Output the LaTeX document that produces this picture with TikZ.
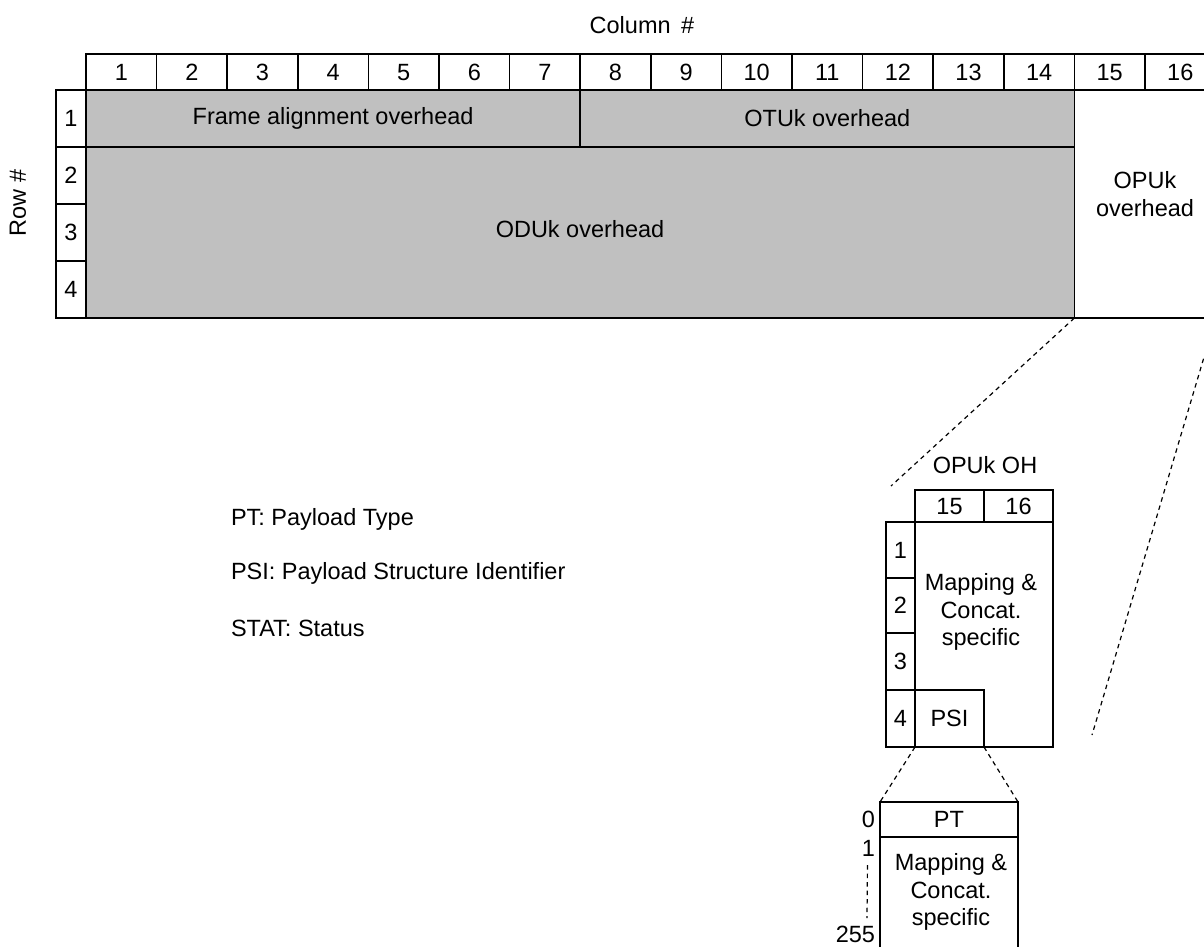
\documentclass[tikz,border=0pt]{standalone}
\usepackage{fontspec}
\setmainfont{Liberation Sans}
\definecolor{ohgray}{HTML}{C0C0C0}
\begin{document}
\begin{tikzpicture}[x=1pt,y=-1pt,
  every node/.style={font=\fontsize{23.5}{27.5}\selectfont, inner sep=0pt, outer sep=0pt},
  cell/.style={draw, line width=1.7pt, fill=white, rectangle},
  numcell/.style={cell, text height=16.8pt, text depth=0pt},
  graycell/.style={cell, fill=ohgray},
  mcell/.style={draw, line width=1.3pt, fill=white, rectangle, text height=16.8pt, text depth=0pt},
  guide/.style={line width=1.2pt, dash pattern=on 4.5pt off 4pt},
  txt/.style={align=center}]
\useasboundingbox (0,0) rectangle (1204,946);
\clip (0,0) rectangle (1204,946);

% titles
\node (coltitle) at (642,25) {Column\hspace{0.45em}\#};
\node[rotate=90] (rowtitle) at (18,203) {Row \#};

% column header cells
\foreach \k in {1,...,16}{
  \node[numcell, minimum width=70.6pt, minimum height=36pt] (h\k) at ({86+70.6*(\k-0.5)},72) {\k};
}
% row number cells
\foreach \r in {1,...,4}{
  \node[numcell, minimum width=30pt, minimum height=57pt] (r\r) at (71,{90+57*(\r-0.5)}) {\r};
}
% overhead areas
\node[graycell, minimum width=494.2pt, minimum height=57pt] (fa) at (333.1,118.5) {Frame alignment overhead};
\node[graycell, minimum width=494.2pt, minimum height=57pt] (otu) at (827.3,118.5) {OTUk overhead};
\node[graycell, minimum width=988.4pt, minimum height=171pt] (odu) at (580.2,232.5) {};
\node (odutxt) at (580,229) {ODUk overhead};
\node[cell, minimum width=141.2pt, minimum height=228pt] (opu) at (1145,204) {};
\node[txt] (oputxt) at (1145,194) {OPUk\\overhead};

% legend
\node[anchor=west] (lpt) at (231,519) {PT: Payload Type};
\node[anchor=west] (lpsi) at (231,573) {PSI: Payload Structure Identifier};
\node[anchor=west] (lstat) at (231,628) {STAT: Status};

% OPUk OH detail
\node (ohtitle) at (985,465) {OPUk OH};
\node[mcell, minimum width=69pt, minimum height=32pt] (m15) at (949.5,506) {15};
\node[mcell, minimum width=69pt, minimum height=32pt] (m16) at (1018.5,506) {16};
\node[mcell, minimum width=138pt, minimum height=225pt] (mbox) at (984,634.5) {};
\node[txt] (mtxt) at (981,612) {Mapping \&\\Concat.\\specific};
\node[mcell, minimum width=29pt, minimum height=56pt] (mr1) at (900.5,550) {1};
\node[mcell, minimum width=29pt, minimum height=55pt] (mr2) at (900.5,605.5) {2};
\node[mcell, minimum width=29pt, minimum height=57pt] (mr3) at (900.5,661.5) {3};
\node[mcell, minimum width=29pt, minimum height=57pt] (mr4) at (900.5,718.5) {4};
\node[mcell, minimum width=69pt, minimum height=57pt] (psi) at (949.5,718.5) {PSI};

% PT detail
\node[mcell, minimum width=138pt, minimum height=35pt] (pt) at (949,819.5) {PT};
\node[mcell, minimum width=138pt, minimum height=130pt] (ptm) at (949,902) {};
\node[txt] (pttxt) at (951,892) {Mapping \&\\Concat.\\specific};
\node[anchor=east] (l0) at (875,819) {0};
\node[anchor=east] (l1) at (875,848) {1};
\node[anchor=east] (l255) at (875,934) {255};

% zoom guides
\coordinate (g1) at (891,486);
\coordinate (g2) at (1092,735);
\draw[guide] (opu.south west) -- (g1);
\draw[guide] (opu.south east) -- (g2);
\draw[guide] (psi.south west) -- (pt.north west);
\draw[guide] (psi.south east) -- (pt.north east);
\draw[guide] (l1.south) ++(-1,9) -- (867,918);
\end{tikzpicture}
\end{document}
